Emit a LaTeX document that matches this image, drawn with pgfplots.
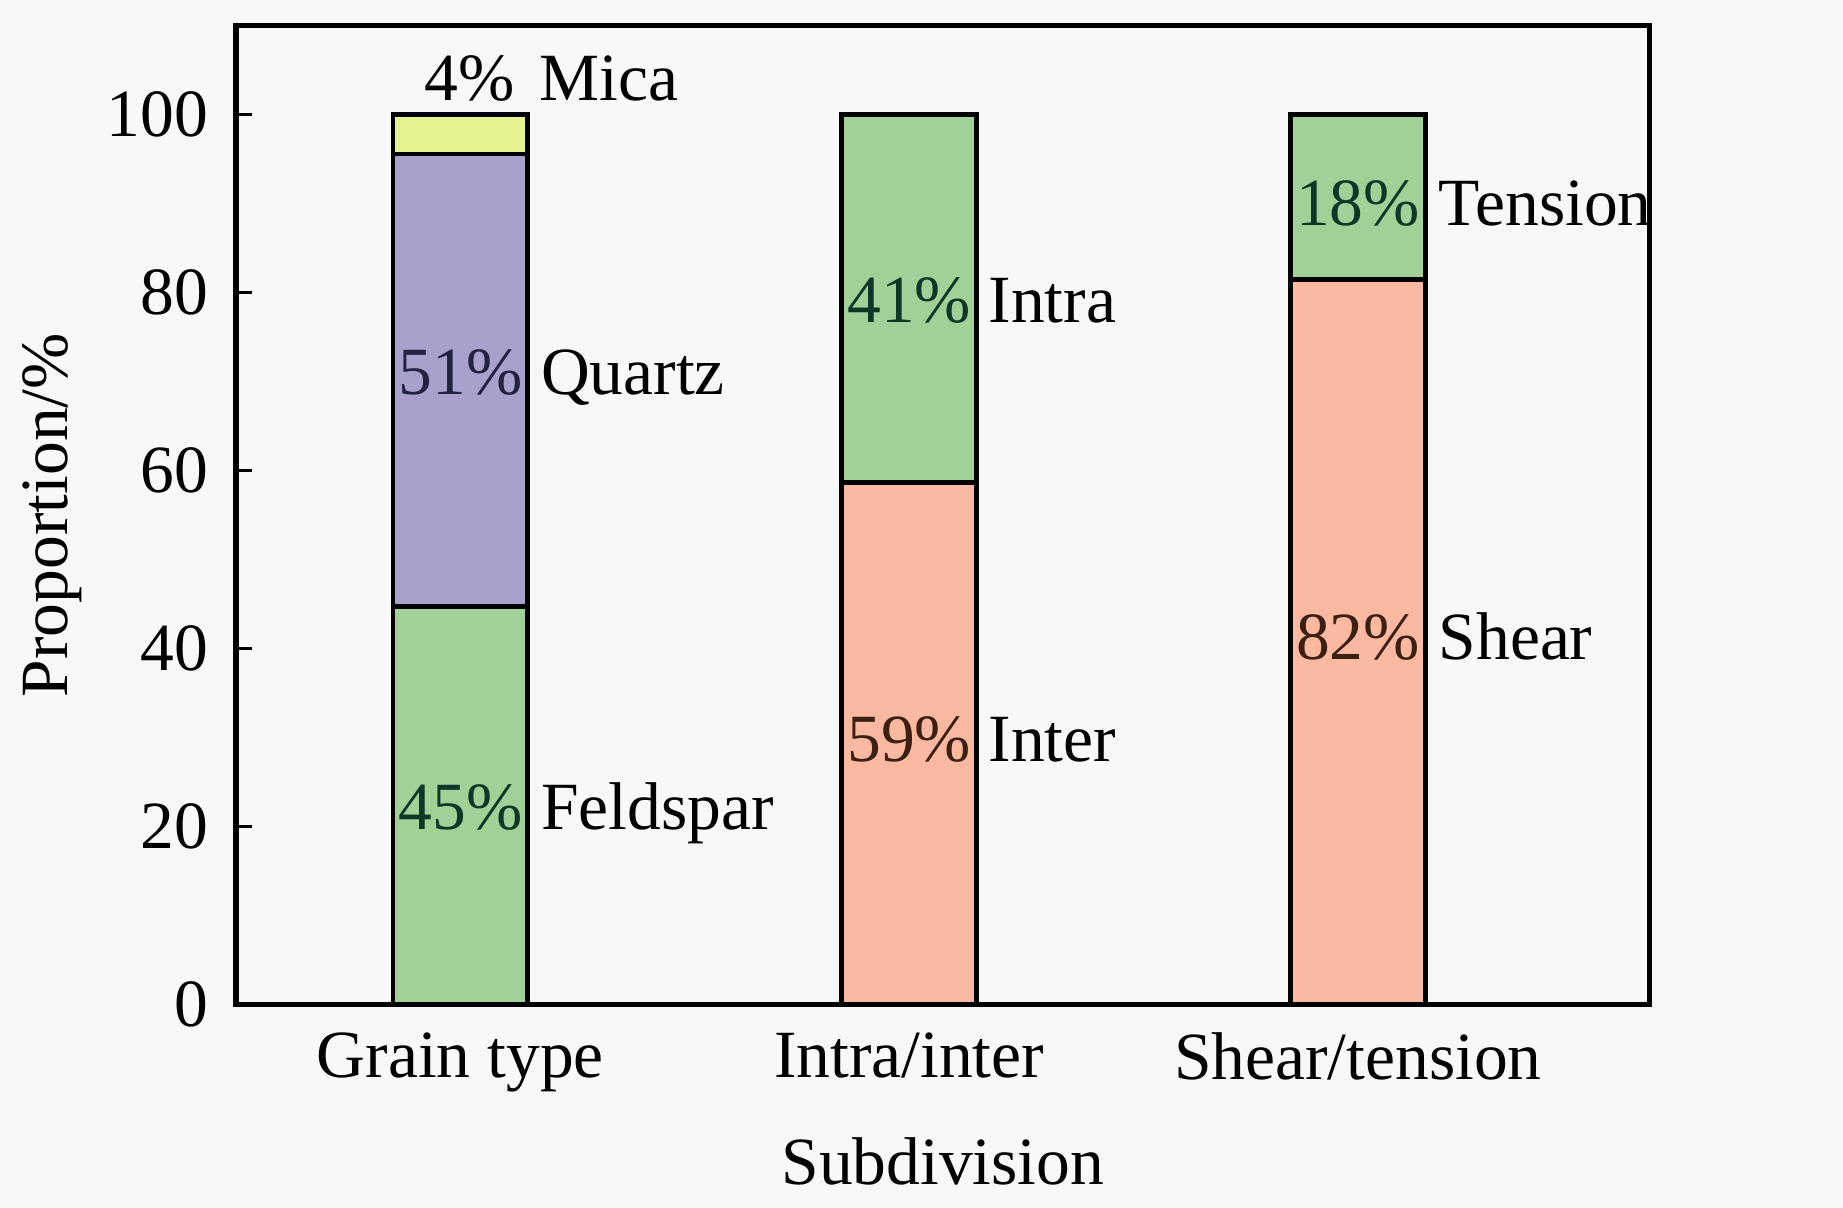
\documentclass[border=0pt]{standalone}
\usepackage{pgfplots}
\pgfplotsset{compat=1.18}
\usepackage{fontspec}
\setmainfont{Liberation Serif}

\definecolor{cgreen}{RGB}{160,210,152}
\definecolor{cpurple}{RGB}{167,161,203}
\definecolor{cyellow}{RGB}{230,241,143}
\definecolor{csalmon}{RGB}{252,185,162}
\definecolor{tgreen}{RGB}{15,55,40}
\definecolor{tpurple}{RGB}{35,35,65}
\definecolor{tsalmon}{RGB}{60,32,18}
\pagecolor[RGB]{248,248,248}

\begin{document}
\fontsize{14.4}{17}\selectfont
\begin{tikzpicture}
\begin{axis}[
    scale only axis,
    width=301.5pt, height=208.75pt,
    ybar,
    xmin=-0.5, xmax=2.65,
    ymin=0, ymax=110,
    xtick={0,1,2},
    xticklabels={Grain type, Intra/inter, Shear/tension},
    major x tick style={draw=none},
    ytick={0,20,40,60,80,100},
    ytick pos=left,
    tick align=inside,
    major tick length=3.5pt,
    axis line style={line width=1.1pt},
    every tick/.style={line width=0.7pt, black},
    /pgf/number format/assume math mode=true,
    ticklabel style={font=\fontsize{14.4}{17}\selectfont},
    label style={font=\fontsize{14.4}{17}\selectfont},
    xticklabel style={yshift=-1pt},
    yticklabel style={xshift=-1pt},
    xlabel={Subdivision},
    ylabel={Proportion/\%},
    xlabel style={yshift=0pt},
    ylabel style={yshift=-4.5pt},
    bar width=0.3,
    clip=false,
    every axis plot/.append style={bar shift=0pt, draw=black, line width=1pt},
]
% grain type (cumulative tops, drawn back to front)
\addplot[fill=cyellow] coordinates {(0,100)};
\addplot[fill=cpurple] coordinates {(0,95.6)};
\addplot[fill=cgreen]  coordinates {(0,44.7)};
% intra/inter
\addplot[fill=cgreen]  coordinates {(1,100)};
\addplot[fill=csalmon] coordinates {(1,58.7)};
% shear/tension
\addplot[fill=cgreen]  coordinates {(2,100)};
\addplot[fill=csalmon] coordinates {(2,81.5)};

\tikzset{pct/.style={anchor=base, inner sep=0pt}, nm/.style={anchor=base west, inner sep=0pt}}
\node[pct, text=tgreen] at (axis cs:0,19.7) {45\%};
\node[nm]  at (axis cs:0.178,19.7) {Feldspar};
\node[pct, text=tpurple] at (axis cs:0,68.6) {51\%};
\node[nm]  at (axis cs:0.178,68.6) {Quartz};
\node[pct] at (axis cs:0.02,101.6) {4\%};
\node[nm]  at (axis cs:0.175,101.6) {Mica};
\node[pct, text=tgreen] at (axis cs:1,76.6) {41\%};
\node[nm]  at (axis cs:1.175,76.6) {Intra};
\node[pct, text=tsalmon] at (axis cs:1,27.3) {59\%};
\node[nm]  at (axis cs:1.175,27.3) {Inter};
\node[pct, text=tgreen] at (axis cs:2,87.6) {18\%};
\node[nm]  at (axis cs:2.178,87.6) {Tension};
\node[pct, text=tsalmon] at (axis cs:2,38.8) {82\%};
\node[nm]  at (axis cs:2.178,38.8) {Shear};
\end{axis}
\path (current axis.north east) ++(41.25pt,5.5pt);
\end{tikzpicture}
\end{document}
